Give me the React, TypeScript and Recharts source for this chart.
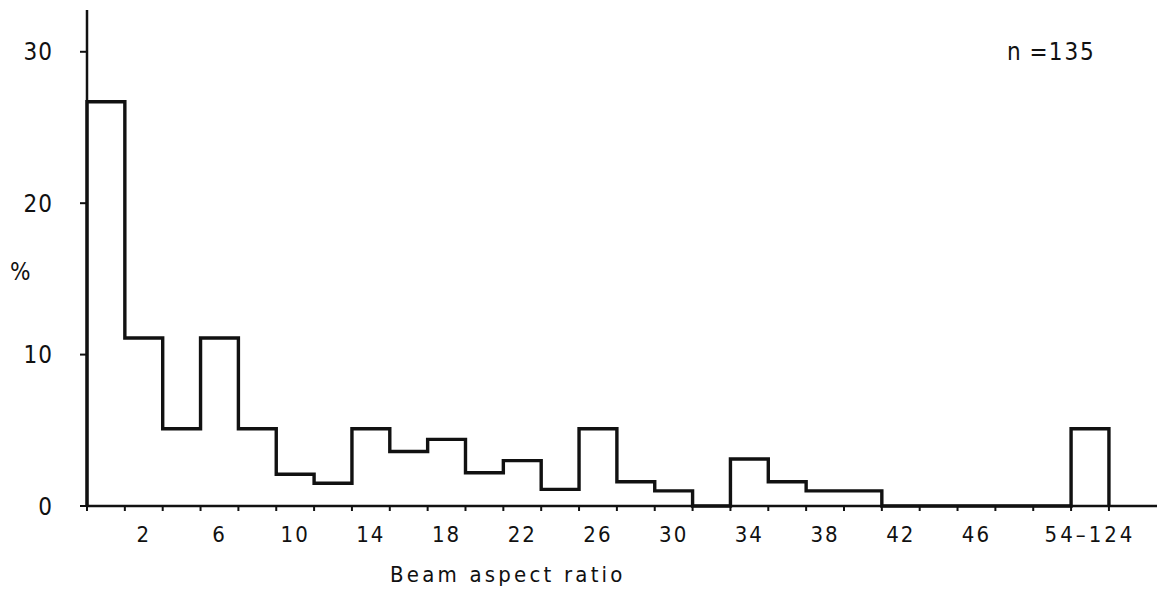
import { ComposedChart, Line, XAxis, YAxis } from 'recharts'

// percentage of beams in each bin (bin width 2)
const percent = [
	26.7, 11.1, 5.1, 11.1, 5.1, 2.1, 1.5, 5.1, 3.6, 4.4, 2.2, 3.0, 1.1, 5.1, 1.6, 1.0, 0, 3.1, 1.6, 1.0,
	1.0, 0, 0, 0, 0, 0, 5.1,
]
const tickLabels = ['2', '6', '10', '14', '18', '22', '26', '30', '34', '38', '42', '46', '54–124']
const labelBins = [1, 3, 5, 7, 9, 11, 13, 15, 17, 19, 21, 23, 26]
const yTicks = [0, 10, 20, 30]
const sampleSize = 135

const font = '"Liberation Sans Narrow", "DejaVu Sans Condensed", "DejaVu Sans", sans-serif'
const ink = '#111'

// outline of the histogram: one step point per bin start, closed at both ends
const stepData = [
	{ x: 0, y: 0 },
	...percent.map((v, i) => ({ x: i, y: v })),
	{ x: percent.length, y: 0 },
]

const boundaries = Array.from({ length: percent.length + 1 }, (_, i) => i)
const labelPos = labelBins.map((b) => b + 0.5)

function XTick(props: any) {
	const { x, y, payload } = props
	const v = payload.value as number
	if (Number.isInteger(v)) {
		return <line x1={x} y1={y} x2={x} y2={y + 5} stroke={ink} strokeWidth={2} />
	}
	const idx = labelPos.indexOf(v)
	return (
		<text
			x={x}
			y={y + 36}
			textAnchor="middle"
			fontFamily={font}
			fontSize={22}
			letterSpacing={idx === tickLabels.length - 1 ? 3 : 2}
			fill={ink}
		>
			{tickLabels[idx]}
		</text>
	)
}

export default function App() {
	return (
		<div style={{ position: 'absolute', left: 0, top: 0, width: 1165, height: 589, background: '#fff' }}>
			<ComposedChart
				width={1165}
				height={589}
				data={stepData}
				margin={{ top: 10, right: 8, left: 7, bottom: 3 }}
			>
				<XAxis
					dataKey="x"
					type="number"
					domain={[0, 28.27]}
					ticks={[...boundaries, ...labelPos]}
					interval={0}
					height={80}
					tickLine={false}
					tickSize={0}
					tickMargin={0}
					tick={<XTick />}
					axisLine={{ stroke: ink, strokeWidth: 2.5 }}
				/>
				<YAxis
					type="number"
					domain={[0, 32.76]}
					ticks={yTicks}
					interval={0}
					width={80}
					tickSize={7}
					tickMargin={27}
					tickLine={{ stroke: ink, strokeWidth: 2 }}
					axisLine={{ stroke: ink, strokeWidth: 2.5 }}
					tick={{ fill: ink, fontFamily: font, fontSize: 24, letterSpacing: 1 }}
				/>
				<Line
					dataKey="y"
					type="stepAfter"
					stroke={ink}
					strokeWidth={3.4}
					dot={false}
					activeDot={false}
					isAnimationActive={false}
				/>
			</ComposedChart>
			<div
				style={{
					position: 'absolute',
					left: 10,
					top: 258,
					fontFamily: font,
					fontSize: 24,
					color: ink,
				}}
			>
				%
			</div>
			<div
				style={{
					position: 'absolute',
					left: 1007,
					top: 38,
					fontFamily: font,
					fontSize: 24,
					letterSpacing: 1,
					color: ink,
					whiteSpace: 'nowrap',
				}}
			>
				n =<span style={{ letterSpacing: 2 }}>{sampleSize}</span>
			</div>
			<div
				style={{
					position: 'absolute',
					left: 390,
					top: 562,
					width: 232,
					textAlign: 'center',
					fontFamily: font,
					fontSize: 22,
					letterSpacing: 3.2,
					color: ink,
					whiteSpace: 'nowrap',
				}}
			>
				Beam aspect ratio
			</div>
		</div>
	)
}
